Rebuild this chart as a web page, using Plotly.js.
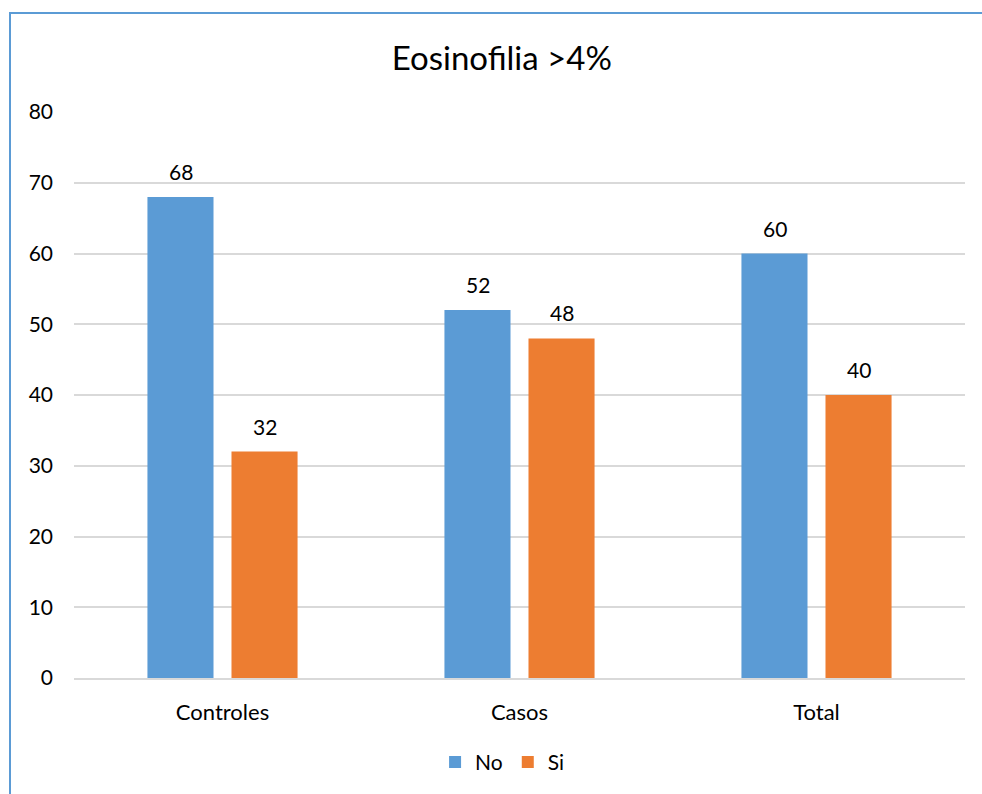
<!DOCTYPE html>
<html>
<head>
<meta charset="utf-8">
<script src="https://cdn.plot.ly/plotly-3.0.1.min.js"></script>
<style>
  html, body { margin: 0; padding: 0; background: #fff; }
  #wrap { position: relative; width: 982px; height: 794px; overflow: hidden; }
  #frame { position: absolute; left: 9px; top: 12px; width: 990px; height: 800px;
           border-left: 2px solid #5B9BD5; border-top: 2px solid #5B9BD5; box-sizing: border-box; }
  #chart { position: absolute; left: 0; top: 0; width: 982px; height: 794px; }
</style>
</head>
<body>
<div id="wrap">
  <div id="chart"></div>
  <div id="frame"></div>
</div>
<script>
// Eosinophilia (>4%) distribution by group, in percent
const categories = ['Controles', 'Casos', 'Total'];
const seriesNames = ['No', 'Si'];
const noValues = [68, 52, 60];
const siValues = [32, 48, 40];
const seriesColors = ['#5B9BD5', '#ED7D31'];

const FONT = 'Lato, "Open Sans", sans-serif';
const TEXT = '#000000';

const traces = [noValues, siValues].map((vals, i) => ({
  type: 'bar',
  name: seriesNames[i],
  x: categories,
  y: vals,
  marker: { color: seriesColors[i] },
  hoverinfo: 'x+y+name'
}));

// value labels above each bar
const annotations = [];
[noValues, siValues].forEach((vals, i) => {
  vals.forEach((v, j) => {
    annotations.push({
      x: categories[j], y: v, xref: 'x', yref: 'y',
      text: String(v), showarrow: false,
      xanchor: 'center', yanchor: 'bottom',
      xshift: i === 0 ? -42 : 42, yshift: 11,
      font: { family: FONT, size: 21, color: TEXT }
    });
  });
});

const layout = {
  width: 982, height: 794,
  margin: { l: 74, r: 17, t: 112, b: 116, autoexpand: false },
  paper_bgcolor: '#ffffff', plot_bgcolor: '#ffffff',
  title: { text: 'Eosinofilia >4%', x: 0.511, xanchor: 'center', y: 0.927, yanchor: 'middle',
           font: { family: FONT, size: 33, color: TEXT } },
  barmode: 'group',
  bargap: 0.434,
  bargroupgap: 0.214,
  xaxis: {
    type: 'category',
    showgrid: false, zeroline: false,
    showline: true, linecolor: '#D9D9D9', linewidth: 2,
    ticks: '', ticklabelstandoff: 14,
    tickfont: { family: FONT, size: 22, color: TEXT }
  },
  yaxis: {
    range: [0, 80], dtick: 10, tick0: 0,
    showgrid: true, gridcolor: '#D9D9D9', gridwidth: 2,
    zeroline: false, showline: false,
    ticks: '', ticklabelstandoff: 20,
    tickfont: { family: FONT, size: 21, color: TEXT }
  },
  showlegend: true,
  legend: {
    orientation: 'h', x: 0.481, xanchor: 'center',
    yref: 'container', y: 0.04, yanchor: 'middle',
    font: { family: FONT, size: 21, color: TEXT },
    itemwidth: 30
  },
  annotations: annotations
};

Plotly.newPlot('chart', traces, layout, { displayModeBar: false, staticPlot: true });
</script>
</body>
</html>
